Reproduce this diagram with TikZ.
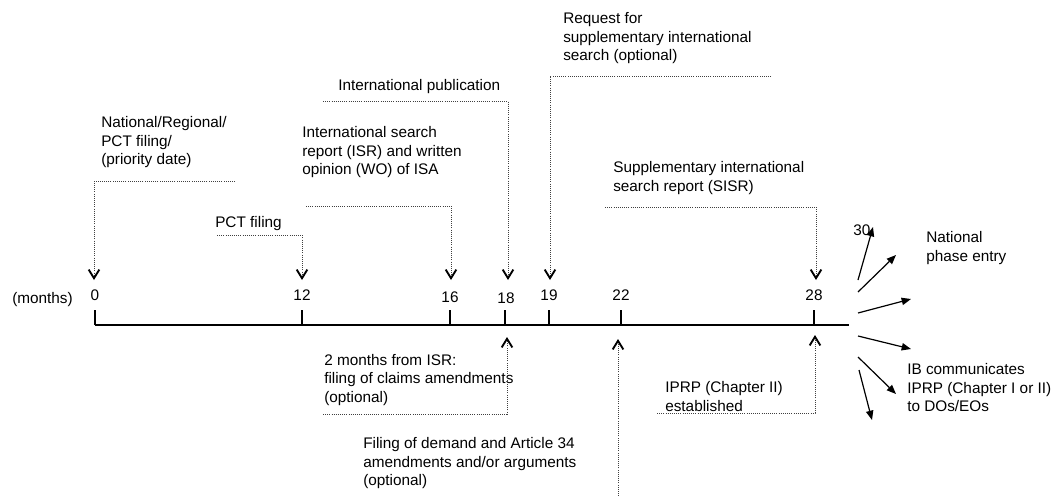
\documentclass[tikz,border=0pt]{standalone}
\usepackage{fontspec}
\setmainfont{Liberation Sans}
\usetikzlibrary{arrows.meta}
\begin{document}
\begin{tikzpicture}[x=0.75pt,y=-0.75pt,
  font=\fontsize{11.5}{13.9}\selectfont,
  txt/.style={anchor=north west, inner sep=0pt, align=left},
  num/.style={inner sep=0pt},
  dotline/.style={densely dotted, line width=0.6pt, black!75},
  dotarrow/.style={dotline, -{Straight Barb[length=6.5pt,width=8pt,line width=1.4pt,color=black]}},
  axisline/.style={line width=1.1pt},
  solidarrow/.style={line width=0.9pt, -{Triangle[length=7pt,width=5.5pt]}}]
\useasboundingbox (0,0) rectangle (1057,496);

% axis
\coordinate (axL) at (95,325);
\coordinate (axR) at (849,325);
\draw[axisline] (axL) -- (axR);
\foreach \xx/\nm in {95/k0,302/k12,450/k16,505/k18,549/k19,621/k22,814/k28}{
  \coordinate (\nm) at (\xx,325);
  \draw[axisline] (\nm) -- ++(0,-15);
}

% tick labels
\node[txt] (months) at (12,292.5) {(months)};
\node[num] (l0) at (95,295) {0};
\node[num] (l12) at (302,295) {12};
\node[num] (l16) at (450,297) {16};
\node[num] (l18) at (506,298) {18};
\node[num] (l19) at (549,295) {19};
\node[num] (l22) at (621,295) {22};
\node[num] (l28) at (814,295) {28};

% texts
\node[txt] (natl) at (101,116.5) {National/Regional/\\PCT filing/\\(priority date)};
\node[txt] (pctf) at (215,216.5) {PCT filing};
\node[txt] (isr) at (302,126.5) {International search\\report (ISR) and written\\opinion (WO) of ISA};
\node[txt] (pub) at (338,79.5) {International publication};
\node[txt] (req) at (563,12.5) {Request for\\supplementary international\\search (optional)};
\node[txt] (sisr) at (613,161.5) {Supplementary international\\search report (SISR)};
\node[txt] (thirty) at (853,224.5) {30};
\node[txt] (npe) at (926,231.5) {National\\phase entry};
\node[txt] (ib) at (907,363.5) {IB communicates\\IPRP (Chapter I or II)\\to DOs/EOs};
\node[txt] (twomo) at (324,354) {2 months from ISR:\\filing of claims amendments\\(optional)};
\node[txt] (demand) at (363,437.5) {Filing of demand and Article 34\\amendments and/or arguments\\(optional)};
\node[txt] (iprp) at (665,381.5) {IPRP (Chapter II)\\established};

% dotted connectors (down)
\coordinate (s0) at (235,181);   \coordinate (t0) at (94,280);
\coordinate (s12) at (217,235);  \coordinate (t12) at (302,280);
\coordinate (s16) at (306,206);  \coordinate (t16) at (451,280);
\coordinate (s18) at (323,101);  \coordinate (t18) at (508,280);
\coordinate (s19) at (771,76);   \coordinate (t19) at (550,280);
\coordinate (s28) at (605,207);  \coordinate (t28) at (816,280);
\draw[dotarrow] (s0) -| (t0);
\draw[dotarrow] (s12) -| (t12);
\draw[dotarrow] (s16) -| (t16);
\draw[dotarrow] (s18) -| (t18);
\draw[dotarrow] (s19) -| (t19);
\draw[dotarrow] (s28) -| (t28);

% dotted connectors (up)
\coordinate (u18) at (323,414);  \coordinate (v18) at (507,337);
\coordinate (u22) at (618,496);  \coordinate (v22) at (618,339);
\coordinate (u28) at (657,413);  \coordinate (v28) at (815,335);
\draw[dotarrow] (u18) -| (v18);
\draw[dotarrow] (u22) -- (v22);
\draw[dotarrow] (u28) -| (v28);

% solid fan arrows
\coordinate (f1) at (858,280); \coordinate (g1) at (873,227);
\coordinate (f2) at (858,292); \coordinate (g2) at (896,255);
\coordinate (f3) at (858,313); \coordinate (g3) at (911,299);
\coordinate (f4) at (858,336); \coordinate (g4) at (911,349);
\coordinate (f5) at (858,357); \coordinate (g5) at (896,394);
\coordinate (f6) at (859,370); \coordinate (g6) at (872,420);
\foreach \i in {1,...,6}{\draw[solidarrow] (f\i) -- (g\i);}
\end{tikzpicture}
\end{document}
